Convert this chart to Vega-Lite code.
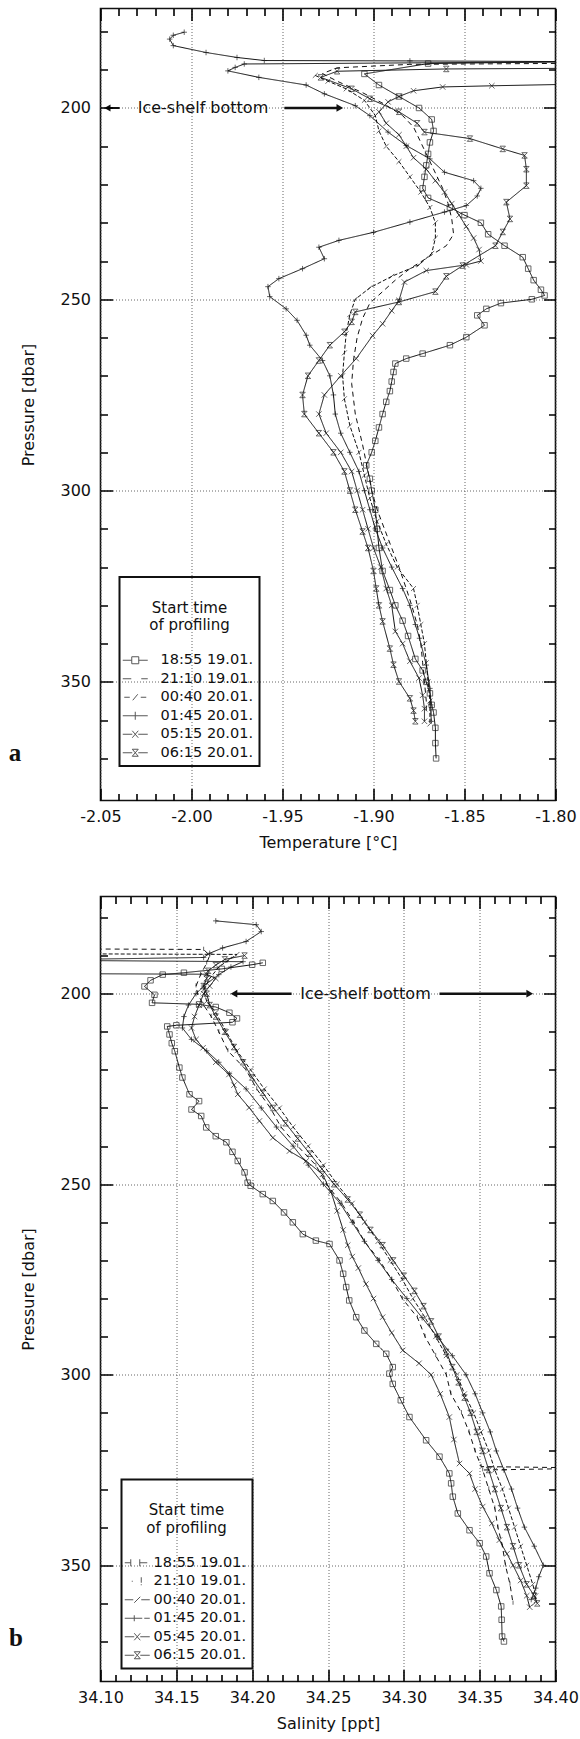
{
"$schema":"https://vega.github.io/schema/vega-lite/v6.json",
"padding":{"left":7.5,"top":7.5,"right":2,"bottom":0},
"spacing":44,
"config":{
 "view":{"stroke":"#111","strokeWidth":1.6},
 "font":"DejaVu Sans",
 "axis":{"labelFont":"DejaVu Sans","titleFont":"DejaVu Sans","labelColor":"#111","titleColor":"#111","labelFontSize":16,"titleFontSize":16,"titleFontWeight":"normal","labelFlush":false,"labelOverlap":false,"gridOpacity":1},
 "legend":{"labelFont":"DejaVu Sans","titleFont":"DejaVu Sans","labelFontSize":14.5,"titleFontSize":15,"titleFontWeight":"normal","labelColor":"#111","titleColor":"#111","strokeWidth":2}
},
"datasets":{
"ta":[
{"k":"18:55 19.01.","P":187.8,"T":-1.78},{"k":"18:55 19.01.","P":188.4,"T":-1.87},{"k":"18:55 19.01.","P":191.1,"T":-1.905},{"k":"18:55 19.01.","P":194,"T":-1.897},{"k":"18:55 19.01.","P":197,"T":-1.886},{"k":"18:55 19.01.","P":200,"T":-1.875},{"k":"18:55 19.01.","P":203,"T":-1.868},{"k":"18:55 19.01.","P":206,"T":-1.867},{"k":"18:55 19.01.","P":209,"T":-1.869},{"k":"18:55 19.01.","P":212,"T":-1.870},{"k":"18:55 19.01.","P":215,"T":-1.871},{"k":"18:55 19.01.","P":218,"T":-1.872},{"k":"18:55 19.01.","P":221,"T":-1.873},{"k":"18:55 19.01.","P":223.5,"T":-1.870},{"k":"18:55 19.01.","P":226,"T":-1.858},{"k":"18:55 19.01.","P":228,"T":-1.850},{"k":"18:55 19.01.","P":230,"T":-1.841},{"k":"18:55 19.01.","P":233,"T":-1.837},{"k":"18:55 19.01.","P":236,"T":-1.828},{"k":"18:55 19.01.","P":239,"T":-1.818},{"k":"18:55 19.01.","P":242,"T":-1.815},{"k":"18:55 19.01.","P":245,"T":-1.812},{"k":"18:55 19.01.","P":247.5,"T":-1.808},{"k":"18:55 19.01.","P":249,"T":-1.806},{"k":"18:55 19.01.","P":250,"T":-1.813},{"k":"18:55 19.01.","P":251,"T":-1.830},{"k":"18:55 19.01.","P":252.5,"T":-1.838},{"k":"18:55 19.01.","P":254.2,"T":-1.843},{"k":"18:55 19.01.","P":256.8,"T":-1.839},{"k":"18:55 19.01.","P":259.9,"T":-1.849},{"k":"18:55 19.01.","P":262,"T":-1.858},{"k":"18:55 19.01.","P":264.2,"T":-1.873},{"k":"18:55 19.01.","P":265.5,"T":-1.882},{"k":"18:55 19.01.","P":266.8,"T":-1.888},{"k":"18:55 19.01.","P":269,"T":-1.889},{"k":"18:55 19.01.","P":271.5,"T":-1.890},{"k":"18:55 19.01.","P":274,"T":-1.891},{"k":"18:55 19.01.","P":276.8,"T":-1.893},{"k":"18:55 19.01.","P":280,"T":-1.895},{"k":"18:55 19.01.","P":283.5,"T":-1.897},{"k":"18:55 19.01.","P":287,"T":-1.899},{"k":"18:55 19.01.","P":290,"T":-1.901},{"k":"18:55 19.01.","P":293.4,"T":-1.904},{"k":"18:55 19.01.","P":296.9,"T":-1.902},{"k":"18:55 19.01.","P":300,"T":-1.901},{"k":"18:55 19.01.","P":305,"T":-1.899},{"k":"18:55 19.01.","P":310,"T":-1.898},{"k":"18:55 19.01.","P":315,"T":-1.897},{"k":"18:55 19.01.","P":321,"T":-1.895},{"k":"18:55 19.01.","P":326,"T":-1.891},{"k":"18:55 19.01.","P":330,"T":-1.888},{"k":"18:55 19.01.","P":334,"T":-1.884},{"k":"18:55 19.01.","P":338,"T":-1.881},{"k":"18:55 19.01.","P":344,"T":-1.877},{"k":"18:55 19.01.","P":347,"T":-1.873},{"k":"18:55 19.01.","P":350,"T":-1.871},{"k":"18:55 19.01.","P":353,"T":-1.869},{"k":"18:55 19.01.","P":356,"T":-1.868},{"k":"18:55 19.01.","P":358,"T":-1.867},{"k":"18:55 19.01.","P":362,"T":-1.866},{"k":"18:55 19.01.","P":366,"T":-1.866},{"k":"18:55 19.01.","P":370,"T":-1.8656},
{"k":"21:10 19.01.","P":188.3,"T":-1.78},{"k":"21:10 19.01.","P":188.6,"T":-1.88},{"k":"21:10 19.01.","P":189.5,"T":-1.92},{"k":"21:10 19.01.","P":191,"T":-1.928},{"k":"21:10 19.01.","P":193,"T":-1.920},{"k":"21:10 19.01.","P":196,"T":-1.906},{"k":"21:10 19.01.","P":199,"T":-1.894},{"k":"21:10 19.01.","P":202,"T":-1.884},{"k":"21:10 19.01.","P":205,"T":-1.878},{"k":"21:10 19.01.","P":209,"T":-1.874},{"k":"21:10 19.01.","P":213,"T":-1.870},{"k":"21:10 19.01.","P":217,"T":-1.866},{"k":"21:10 19.01.","P":221,"T":-1.862},{"k":"21:10 19.01.","P":225,"T":-1.859},{"k":"21:10 19.01.","P":229,"T":-1.857},{"k":"21:10 19.01.","P":233,"T":-1.856},{"k":"21:10 19.01.","P":236,"T":-1.860},{"k":"21:10 19.01.","P":239,"T":-1.870},{"k":"21:10 19.01.","P":242,"T":-1.880},{"k":"21:10 19.01.","P":245,"T":-1.888},{"k":"21:10 19.01.","P":248,"T":-1.895},{"k":"21:10 19.01.","P":251,"T":-1.902},{"k":"21:10 19.01.","P":255,"T":-1.906},{"k":"21:10 19.01.","P":260,"T":-1.909},{"k":"21:10 19.01.","P":266,"T":-1.911},{"k":"21:10 19.01.","P":272,"T":-1.912},{"k":"21:10 19.01.","P":280,"T":-1.910},{"k":"21:10 19.01.","P":288,"T":-1.906},{"k":"21:10 19.01.","P":295,"T":-1.903},{"k":"21:10 19.01.","P":300,"T":-1.901},{"k":"21:10 19.01.","P":305,"T":-1.898},{"k":"21:10 19.01.","P":310,"T":-1.894},{"k":"21:10 19.01.","P":315,"T":-1.890},{"k":"21:10 19.01.","P":320,"T":-1.886},{"k":"21:10 19.01.","P":325.6,"T":-1.882},{"k":"21:10 19.01.","P":330,"T":-1.879},{"k":"21:10 19.01.","P":335,"T":-1.876},{"k":"21:10 19.01.","P":340,"T":-1.874},{"k":"21:10 19.01.","P":345,"T":-1.873},{"k":"21:10 19.01.","P":350,"T":-1.872},{"k":"21:10 19.01.","P":355,"T":-1.871},{"k":"21:10 19.01.","P":358,"T":-1.871},
{"k":"00:40 20.01.","P":191.5,"T":-1.932},{"k":"00:40 20.01.","P":193,"T":-1.925},{"k":"00:40 20.01.","P":195,"T":-1.915},{"k":"00:40 20.01.","P":198,"T":-1.905},{"k":"00:40 20.01.","P":202,"T":-1.899},{"k":"00:40 20.01.","P":206,"T":-1.897},{"k":"00:40 20.01.","P":210,"T":-1.893},{"k":"00:40 20.01.","P":214,"T":-1.886},{"k":"00:40 20.01.","P":218,"T":-1.880},{"k":"00:40 20.01.","P":222,"T":-1.874},{"k":"00:40 20.01.","P":226,"T":-1.869},{"k":"00:40 20.01.","P":230,"T":-1.866},{"k":"00:40 20.01.","P":234,"T":-1.866},{"k":"00:40 20.01.","P":238,"T":-1.868},{"k":"00:40 20.01.","P":241,"T":-1.875},{"k":"00:40 20.01.","P":244,"T":-1.890},{"k":"00:40 20.01.","P":247,"T":-1.902},{"k":"00:40 20.01.","P":250,"T":-1.910},{"k":"00:40 20.01.","P":254,"T":-1.913},{"k":"00:40 20.01.","P":259,"T":-1.915},{"k":"00:40 20.01.","P":264,"T":-1.916},{"k":"00:40 20.01.","P":270,"T":-1.917},{"k":"00:40 20.01.","P":276,"T":-1.916},{"k":"00:40 20.01.","P":283,"T":-1.913},{"k":"00:40 20.01.","P":290,"T":-1.908},{"k":"00:40 20.01.","P":296,"T":-1.905},{"k":"00:40 20.01.","P":302,"T":-1.902},{"k":"00:40 20.01.","P":308,"T":-1.898},{"k":"00:40 20.01.","P":314,"T":-1.893},{"k":"00:40 20.01.","P":320,"T":-1.887},{"k":"00:40 20.01.","P":325.6,"T":-1.878},{"k":"00:40 20.01.","P":330,"T":-1.876},{"k":"00:40 20.01.","P":335,"T":-1.874},{"k":"00:40 20.01.","P":340,"T":-1.872},{"k":"00:40 20.01.","P":345,"T":-1.871},{"k":"00:40 20.01.","P":350,"T":-1.870},{"k":"00:40 20.01.","P":355,"T":-1.869},{"k":"00:40 20.01.","P":361,"T":-1.869},
{"k":"01:45 20.01.","P":180.2,"T":-2.004},{"k":"01:45 20.01.","P":181,"T":-2.010},{"k":"01:45 20.01.","P":182,"T":-2.012},{"k":"01:45 20.01.","P":183.7,"T":-2.010},{"k":"01:45 20.01.","P":185.5,"T":-1.992},{"k":"01:45 20.01.","P":186.8,"T":-1.975},{"k":"01:45 20.01.","P":187.6,"T":-1.96},{"k":"01:45 20.01.","P":187.7,"T":-1.88},{"k":"01:45 20.01.","P":187.9,"T":-1.78},{"k":"01:45 20.01.","P":188.5,"T":-1.971},{"k":"01:45 20.01.","P":189.4,"T":-1.976},{"k":"01:45 20.01.","P":190.3,"T":-1.980},{"k":"01:45 20.01.","P":192,"T":-1.963},{"k":"01:45 20.01.","P":194,"T":-1.937},{"k":"01:45 20.01.","P":196.3,"T":-1.927},{"k":"01:45 20.01.","P":199.4,"T":-1.910},{"k":"01:45 20.01.","P":202,"T":-1.902},{"k":"01:45 20.01.","P":206.3,"T":-1.892},{"k":"01:45 20.01.","P":209.8,"T":-1.882},{"k":"01:45 20.01.","P":213.3,"T":-1.869},{"k":"01:45 20.01.","P":216.8,"T":-1.861},{"k":"01:45 20.01.","P":219,"T":-1.845},{"k":"01:45 20.01.","P":221,"T":-1.841},{"k":"01:45 20.01.","P":223,"T":-1.843},{"k":"01:45 20.01.","P":225.5,"T":-1.849},{"k":"01:45 20.01.","P":227.2,"T":-1.861},{"k":"01:45 20.01.","P":229.8,"T":-1.880},{"k":"01:45 20.01.","P":232.5,"T":-1.900},{"k":"01:45 20.01.","P":234.6,"T":-1.919},{"k":"01:45 20.01.","P":236.4,"T":-1.930},{"k":"01:45 20.01.","P":239.4,"T":-1.927},{"k":"01:45 20.01.","P":242,"T":-1.939},{"k":"01:45 20.01.","P":244.6,"T":-1.952},{"k":"01:45 20.01.","P":246.7,"T":-1.958},{"k":"01:45 20.01.","P":249.3,"T":-1.957},{"k":"01:45 20.01.","P":252.5,"T":-1.948},{"k":"01:45 20.01.","P":255.5,"T":-1.942},{"k":"01:45 20.01.","P":259.4,"T":-1.937},{"k":"01:45 20.01.","P":262,"T":-1.935},{"k":"01:45 20.01.","P":266,"T":-1.928},{"k":"01:45 20.01.","P":270,"T":-1.924},{"k":"01:45 20.01.","P":275,"T":-1.922},{"k":"01:45 20.01.","P":280,"T":-1.921},{"k":"01:45 20.01.","P":285,"T":-1.918},{"k":"01:45 20.01.","P":290,"T":-1.913},{"k":"01:45 20.01.","P":295,"T":-1.908},{"k":"01:45 20.01.","P":300,"T":-1.905},{"k":"01:45 20.01.","P":305,"T":-1.902},{"k":"01:45 20.01.","P":310,"T":-1.899},{"k":"01:45 20.01.","P":315,"T":-1.895},{"k":"01:45 20.01.","P":320,"T":-1.890},{"k":"01:45 20.01.","P":325.6,"T":-1.884},{"k":"01:45 20.01.","P":330,"T":-1.880},{"k":"01:45 20.01.","P":335,"T":-1.877},{"k":"01:45 20.01.","P":338.6,"T":-1.8747},{"k":"01:45 20.01.","P":345.6,"T":-1.871},{"k":"01:45 20.01.","P":351.7,"T":-1.869},{"k":"01:45 20.01.","P":356,"T":-1.8685},{"k":"01:45 20.01.","P":360.3,"T":-1.8683},
{"k":"05:15 20.01.","P":193.7,"T":-1.78},{"k":"05:15 20.01.","P":194.2,"T":-1.835},{"k":"05:15 20.01.","P":194.5,"T":-1.862},{"k":"05:15 20.01.","P":195.5,"T":-1.878},{"k":"05:15 20.01.","P":197,"T":-1.886},{"k":"05:15 20.01.","P":198.4,"T":-1.892},{"k":"05:15 20.01.","P":201,"T":-1.897},{"k":"05:15 20.01.","P":204,"T":-1.893},{"k":"05:15 20.01.","P":207,"T":-1.886},{"k":"05:15 20.01.","P":210,"T":-1.882},{"k":"05:15 20.01.","P":213,"T":-1.878},{"k":"05:15 20.01.","P":216,"T":-1.871},{"k":"05:15 20.01.","P":219,"T":-1.866},{"k":"05:15 20.01.","P":222,"T":-1.861},{"k":"05:15 20.01.","P":225,"T":-1.857},{"k":"05:15 20.01.","P":228,"T":-1.853},{"k":"05:15 20.01.","P":231,"T":-1.849},{"k":"05:15 20.01.","P":234,"T":-1.845},{"k":"05:15 20.01.","P":237,"T":-1.842},{"k":"05:15 20.01.","P":240,"T":-1.841},{"k":"05:15 20.01.","P":241,"T":-1.849},{"k":"05:15 20.01.","P":242.5,"T":-1.871},{"k":"05:15 20.01.","P":245.5,"T":-1.883},{"k":"05:15 20.01.","P":250.3,"T":-1.886},{"k":"05:15 20.01.","P":253,"T":-1.890},{"k":"05:15 20.01.","P":256.4,"T":-1.895},{"k":"05:15 20.01.","P":259.5,"T":-1.9005},{"k":"05:15 20.01.","P":265.5,"T":-1.9095},{"k":"05:15 20.01.","P":270,"T":-1.918},{"k":"05:15 20.01.","P":275,"T":-1.927},{"k":"05:15 20.01.","P":280,"T":-1.930},{"k":"05:15 20.01.","P":285,"T":-1.926},{"k":"05:15 20.01.","P":290,"T":-1.918},{"k":"05:15 20.01.","P":295,"T":-1.912},{"k":"05:15 20.01.","P":300,"T":-1.909},{"k":"05:15 20.01.","P":305,"T":-1.906},{"k":"05:15 20.01.","P":310,"T":-1.903},{"k":"05:15 20.01.","P":315,"T":-1.900},{"k":"05:15 20.01.","P":320,"T":-1.896},{"k":"05:15 20.01.","P":325.6,"T":-1.893},{"k":"05:15 20.01.","P":330,"T":-1.890},{"k":"05:15 20.01.","P":336.8,"T":-1.888},{"k":"05:15 20.01.","P":340,"T":-1.884},{"k":"05:15 20.01.","P":344.6,"T":-1.880},{"k":"05:15 20.01.","P":349,"T":-1.875},{"k":"05:15 20.01.","P":353.5,"T":-1.873},{"k":"05:15 20.01.","P":357,"T":-1.872},{"k":"05:15 20.01.","P":360.3,"T":-1.872},
{"k":"06:15 20.01.","P":189.6,"T":-1.78},{"k":"06:15 20.01.","P":189.8,"T":-1.86},{"k":"06:15 20.01.","P":190.4,"T":-1.920},{"k":"06:15 20.01.","P":192,"T":-1.929},{"k":"06:15 20.01.","P":195,"T":-1.912},{"k":"06:15 20.01.","P":197.6,"T":-1.902},{"k":"06:15 20.01.","P":201,"T":-1.886},{"k":"06:15 20.01.","P":204,"T":-1.876},{"k":"06:15 20.01.","P":206.3,"T":-1.872},{"k":"06:15 20.01.","P":208,"T":-1.847},{"k":"06:15 20.01.","P":210.7,"T":-1.829},{"k":"06:15 20.01.","P":212.4,"T":-1.817},{"k":"06:15 20.01.","P":216,"T":-1.816},{"k":"06:15 20.01.","P":220.3,"T":-1.816},{"k":"06:15 20.01.","P":224.6,"T":-1.827},{"k":"06:15 20.01.","P":229,"T":-1.825},{"k":"06:15 20.01.","P":232.4,"T":-1.829},{"k":"06:15 20.01.","P":236,"T":-1.833},{"k":"06:15 20.01.","P":241.2,"T":-1.851},{"k":"06:15 20.01.","P":244,"T":-1.860},{"k":"06:15 20.01.","P":248,"T":-1.866},{"k":"06:15 20.01.","P":250.7,"T":-1.886},{"k":"06:15 20.01.","P":253.3,"T":-1.910},{"k":"06:15 20.01.","P":255.9,"T":-1.912},{"k":"06:15 20.01.","P":258.5,"T":-1.916},{"k":"06:15 20.01.","P":262,"T":-1.924},{"k":"06:15 20.01.","P":266,"T":-1.930},{"k":"06:15 20.01.","P":270,"T":-1.936},{"k":"06:15 20.01.","P":275,"T":-1.939},{"k":"06:15 20.01.","P":280,"T":-1.938},{"k":"06:15 20.01.","P":285,"T":-1.930},{"k":"06:15 20.01.","P":290,"T":-1.922},{"k":"06:15 20.01.","P":295,"T":-1.916},{"k":"06:15 20.01.","P":300,"T":-1.913},{"k":"06:15 20.01.","P":305,"T":-1.910},{"k":"06:15 20.01.","P":310.7,"T":-1.906},{"k":"06:15 20.01.","P":315,"T":-1.903},{"k":"06:15 20.01.","P":321,"T":-1.900},{"k":"06:15 20.01.","P":325.6,"T":-1.8985},{"k":"06:15 20.01.","P":330,"T":-1.897},{"k":"06:15 20.01.","P":334.2,"T":-1.895},{"k":"06:15 20.01.","P":341.3,"T":-1.891},{"k":"06:15 20.01.","P":345.5,"T":-1.889},{"k":"06:15 20.01.","P":349.9,"T":-1.886},{"k":"06:15 20.01.","P":354.3,"T":-1.880},{"k":"06:15 20.01.","P":357.5,"T":-1.878},{"k":"06:15 20.01.","P":360.3,"T":-1.877}
],
"sb":[
{"k":"18:55 19.01.","P":191.9,"S":34.207},{"k":"18:55 19.01.","P":192.4,"S":34.200},{"k":"18:55 19.01.","P":193.5,"S":34.18},{"k":"18:55 19.01.","P":194.5,"S":34.155},{"k":"18:55 19.01.","P":195,"S":34.141},{"k":"18:55 19.01.","P":196.5,"S":34.133},{"k":"18:55 19.01.","P":198.1,"S":34.129},{"k":"18:55 19.01.","P":200.3,"S":34.1356},{"k":"18:55 19.01.","P":202.4,"S":34.134},{"k":"18:55 19.01.","P":202.8,"S":34.165},{"k":"18:55 19.01.","P":203.5,"S":34.176},{"k":"18:55 19.01.","P":205,"S":34.185},{"k":"18:55 19.01.","P":206.5,"S":34.190},{"k":"18:55 19.01.","P":207.5,"S":34.187},{"k":"18:55 19.01.","P":208.3,"S":34.150},{"k":"18:55 19.01.","P":208.6,"S":34.144},{"k":"18:55 19.01.","P":210.7,"S":34.1455},{"k":"18:55 19.01.","P":213,"S":34.147},{"k":"18:55 19.01.","P":215.1,"S":34.149},{"k":"18:55 19.01.","P":219.4,"S":34.152},{"k":"18:55 19.01.","P":222,"S":34.154},{"k":"18:55 19.01.","P":226.4,"S":34.1587},{"k":"18:55 19.01.","P":228.2,"S":34.165},{"k":"18:55 19.01.","P":230.4,"S":34.160},{"k":"18:55 19.01.","P":232.1,"S":34.1664},{"k":"18:55 19.01.","P":235.1,"S":34.1697},{"k":"18:55 19.01.","P":237.4,"S":34.176},{"k":"18:55 19.01.","P":239,"S":34.183},{"k":"18:55 19.01.","P":241.5,"S":34.187},{"k":"18:55 19.01.","P":243.9,"S":34.1905},{"k":"18:55 19.01.","P":246.9,"S":34.195},{"k":"18:55 19.01.","P":249.6,"S":34.197},{"k":"18:55 19.01.","P":250.4,"S":34.199},{"k":"18:55 19.01.","P":252.6,"S":34.207},{"k":"18:55 19.01.","P":254.4,"S":34.2136},{"k":"18:55 19.01.","P":257.4,"S":34.221},{"k":"18:55 19.01.","P":260,"S":34.2268},{"k":"18:55 19.01.","P":263.1,"S":34.2334},{"k":"18:55 19.01.","P":264.8,"S":34.242},{"k":"18:55 19.01.","P":265.7,"S":34.251},{"k":"18:55 19.01.","P":270,"S":34.2576},{"k":"18:55 19.01.","P":273.5,"S":34.260},{"k":"18:55 19.01.","P":277,"S":34.262},{"k":"18:55 19.01.","P":280.5,"S":34.264},{"k":"18:55 19.01.","P":284.9,"S":34.2686},{"k":"18:55 19.01.","P":288.4,"S":34.274},{"k":"18:55 19.01.","P":291.9,"S":34.2818},{"k":"18:55 19.01.","P":294.5,"S":34.2884},{"k":"18:55 19.01.","P":298,"S":34.2927},{"k":"18:55 19.01.","P":299.7,"S":34.2905},{"k":"18:55 19.01.","P":302.4,"S":34.2927},{"k":"18:55 19.01.","P":306.7,"S":34.298},{"k":"18:55 19.01.","P":311.1,"S":34.3037},{"k":"18:55 19.01.","P":317.2,"S":34.3147},{"k":"18:55 19.01.","P":321.5,"S":34.3235},{"k":"18:55 19.01.","P":325.9,"S":34.330},{"k":"18:55 19.01.","P":328.5,"S":34.3312},{"k":"18:55 19.01.","P":332,"S":34.3323},{"k":"18:55 19.01.","P":336.4,"S":34.3356},{"k":"18:55 19.01.","P":340.8,"S":34.3433},{"k":"18:55 19.01.","P":344.2,"S":34.350},{"k":"18:55 19.01.","P":347.7,"S":34.3543},{"k":"18:55 19.01.","P":352.1,"S":34.3565},{"k":"18:55 19.01.","P":356.5,"S":34.361},{"k":"18:55 19.01.","P":360.8,"S":34.3642},{"k":"18:55 19.01.","P":364.3,"S":34.3645},{"k":"18:55 19.01.","P":368.7,"S":34.3648},{"k":"18:55 19.01.","P":370,"S":34.366},
{"k":"21:10 19.01.","P":188.2,"S":34.05},{"k":"21:10 19.01.","P":188.4,"S":34.168},{"k":"21:10 19.01.","P":190,"S":34.172},{"k":"21:10 19.01.","P":192,"S":34.170},{"k":"21:10 19.01.","P":195,"S":34.166},{"k":"21:10 19.01.","P":198,"S":34.163},{"k":"21:10 19.01.","P":200,"S":34.164},{"k":"21:10 19.01.","P":203,"S":34.168},{"k":"21:10 19.01.","P":206,"S":34.173},{"k":"21:10 19.01.","P":210,"S":34.178},{"k":"21:10 19.01.","P":215,"S":34.184},{"k":"21:10 19.01.","P":220,"S":34.196},{"k":"21:10 19.01.","P":225,"S":34.203},{"k":"21:10 19.01.","P":230,"S":34.212},{"k":"21:10 19.01.","P":235,"S":34.219},{"k":"21:10 19.01.","P":240,"S":34.230},{"k":"21:10 19.01.","P":245,"S":34.242},{"k":"21:10 19.01.","P":250,"S":34.249},{"k":"21:10 19.01.","P":255,"S":34.259},{"k":"21:10 19.01.","P":260,"S":34.267},{"k":"21:10 19.01.","P":265,"S":34.274},{"k":"21:10 19.01.","P":270,"S":34.284},{"k":"21:10 19.01.","P":275,"S":34.292},{"k":"21:10 19.01.","P":280,"S":34.299},{"k":"21:10 19.01.","P":285,"S":34.309},{"k":"21:10 19.01.","P":290,"S":34.314},{"k":"21:10 19.01.","P":295,"S":34.321},{"k":"21:10 19.01.","P":300,"S":34.328},{"k":"21:10 19.01.","P":305,"S":34.331},{"k":"21:10 19.01.","P":310,"S":34.338},{"k":"21:10 19.01.","P":315,"S":34.343},{"k":"21:10 19.01.","P":320,"S":34.347},{"k":"21:10 19.01.","P":324.1,"S":34.351},{"k":"21:10 19.01.","P":324.5,"S":34.43},{"k":"21:10 19.01.","P":325,"S":34.352},{"k":"21:10 19.01.","P":330,"S":34.356},{"k":"21:10 19.01.","P":335,"S":34.360},{"k":"21:10 19.01.","P":340,"S":34.362},{"k":"21:10 19.01.","P":345,"S":34.365},{"k":"21:10 19.01.","P":350,"S":34.367},{"k":"21:10 19.01.","P":355,"S":34.370},{"k":"21:10 19.01.","P":360,"S":34.372},
{"k":"00:40 20.01.","P":189.5,"S":34.05},{"k":"00:40 20.01.","P":189.7,"S":34.19},{"k":"00:40 20.01.","P":191,"S":34.185},{"k":"00:40 20.01.","P":193,"S":34.178},{"k":"00:40 20.01.","P":196,"S":34.172},{"k":"00:40 20.01.","P":199,"S":34.168},{"k":"00:40 20.01.","P":202,"S":34.170},{"k":"00:40 20.01.","P":205,"S":34.176},{"k":"00:40 20.01.","P":210,"S":34.183},{"k":"00:40 20.01.","P":215,"S":34.190},{"k":"00:40 20.01.","P":220,"S":34.199},{"k":"00:40 20.01.","P":225,"S":34.208},{"k":"00:40 20.01.","P":230,"S":34.218},{"k":"00:40 20.01.","P":235,"S":34.227},{"k":"00:40 20.01.","P":240,"S":34.237},{"k":"00:40 20.01.","P":245,"S":34.247},{"k":"00:40 20.01.","P":250,"S":34.256},{"k":"00:40 20.01.","P":255,"S":34.266},{"k":"00:40 20.01.","P":260,"S":34.274},{"k":"00:40 20.01.","P":265,"S":34.283},{"k":"00:40 20.01.","P":270,"S":34.291},{"k":"00:40 20.01.","P":275,"S":34.299},{"k":"00:40 20.01.","P":280,"S":34.306},{"k":"00:40 20.01.","P":285,"S":34.314},{"k":"00:40 20.01.","P":290,"S":34.321},{"k":"00:40 20.01.","P":295,"S":34.328},{"k":"00:40 20.01.","P":300,"S":34.335},{"k":"00:40 20.01.","P":305,"S":34.340},{"k":"00:40 20.01.","P":310,"S":34.346},{"k":"00:40 20.01.","P":315,"S":34.351},{"k":"00:40 20.01.","P":320,"S":34.356},{"k":"00:40 20.01.","P":325,"S":34.360},{"k":"00:40 20.01.","P":330,"S":34.365},{"k":"00:40 20.01.","P":335,"S":34.369},{"k":"00:40 20.01.","P":340,"S":34.373},{"k":"00:40 20.01.","P":345,"S":34.377},{"k":"00:40 20.01.","P":350,"S":34.381},{"k":"00:40 20.01.","P":355,"S":34.385},{"k":"00:40 20.01.","P":358,"S":34.387},{"k":"00:40 20.01.","P":360,"S":34.386},
{"k":"01:45 20.01.","P":180.9,"S":34.176},{"k":"01:45 20.01.","P":181.9,"S":34.2027},{"k":"01:45 20.01.","P":183.7,"S":34.206},{"k":"01:45 20.01.","P":186.3,"S":34.196},{"k":"01:45 20.01.","P":188,"S":34.1805},{"k":"01:45 20.01.","P":189.4,"S":34.172},{"k":"01:45 20.01.","P":190.5,"S":34.168},{"k":"01:45 20.01.","P":191.2,"S":34.05},{"k":"01:45 20.01.","P":191.6,"S":34.194},{"k":"01:45 20.01.","P":193,"S":34.186},{"k":"01:45 20.01.","P":195,"S":34.178},{"k":"01:45 20.01.","P":198,"S":34.168},{"k":"01:45 20.01.","P":200,"S":34.163},{"k":"01:45 20.01.","P":203,"S":34.158},{"k":"01:45 20.01.","P":206,"S":34.155},{"k":"01:45 20.01.","P":209,"S":34.154},{"k":"01:45 20.01.","P":212,"S":34.160},{"k":"01:45 20.01.","P":215,"S":34.170},{"k":"01:45 20.01.","P":218,"S":34.178},{"k":"01:45 20.01.","P":221,"S":34.185},{"k":"01:45 20.01.","P":225,"S":34.196},{"k":"01:45 20.01.","P":230,"S":34.206},{"k":"01:45 20.01.","P":235,"S":34.216},{"k":"01:45 20.01.","P":240,"S":34.227},{"k":"01:45 20.01.","P":245,"S":34.237},{"k":"01:45 20.01.","P":250,"S":34.247},{"k":"01:45 20.01.","P":255,"S":34.258},{"k":"01:45 20.01.","P":260,"S":34.266},{"k":"01:45 20.01.","P":265,"S":34.274},{"k":"01:45 20.01.","P":270,"S":34.283},{"k":"01:45 20.01.","P":275,"S":34.292},{"k":"01:45 20.01.","P":280,"S":34.302},{"k":"01:45 20.01.","P":285,"S":34.312},{"k":"01:45 20.01.","P":290,"S":34.322},{"k":"01:45 20.01.","P":295,"S":34.332},{"k":"01:45 20.01.","P":300,"S":34.341},{"k":"01:45 20.01.","P":305,"S":34.347},{"k":"01:45 20.01.","P":310,"S":34.352},{"k":"01:45 20.01.","P":315,"S":34.357},{"k":"01:45 20.01.","P":320,"S":34.361},{"k":"01:45 20.01.","P":325,"S":34.366},{"k":"01:45 20.01.","P":330,"S":34.371},{"k":"01:45 20.01.","P":335,"S":34.375},{"k":"01:45 20.01.","P":340,"S":34.3795},{"k":"01:45 20.01.","P":345,"S":34.386},{"k":"01:45 20.01.","P":350,"S":34.392},{"k":"01:45 20.01.","P":353,"S":34.389},{"k":"01:45 20.01.","P":356,"S":34.387},{"k":"01:45 20.01.","P":359,"S":34.384},
{"k":"05:45 20.01.","P":194.7,"S":34.05},{"k":"05:45 20.01.","P":194.9,"S":34.170},{"k":"05:45 20.01.","P":196,"S":34.176},{"k":"05:45 20.01.","P":198,"S":34.172},{"k":"05:45 20.01.","P":200,"S":34.168},{"k":"05:45 20.01.","P":203,"S":34.165},{"k":"05:45 20.01.","P":206,"S":34.162},{"k":"05:45 20.01.","P":209,"S":34.160},{"k":"05:45 20.01.","P":212,"S":34.163},{"k":"05:45 20.01.","P":214.2,"S":34.1676},{"k":"05:45 20.01.","P":218,"S":34.176},{"k":"05:45 20.01.","P":221.2,"S":34.1847},{"k":"05:45 20.01.","P":224,"S":34.188},{"k":"05:45 20.01.","P":226.4,"S":34.1905},{"k":"05:45 20.01.","P":229.9,"S":34.198},{"k":"05:45 20.01.","P":233.4,"S":34.2048},{"k":"05:45 20.01.","P":237.8,"S":34.2136},{"k":"05:45 20.01.","P":241.3,"S":34.2246},{"k":"05:45 20.01.","P":243.9,"S":34.2356},{"k":"05:45 20.01.","P":247.4,"S":34.2464},{"k":"05:45 20.01.","P":252,"S":34.252},{"k":"05:45 20.01.","P":257,"S":34.256},{"k":"05:45 20.01.","P":262,"S":34.260},{"k":"05:45 20.01.","P":266,"S":34.263},{"k":"05:45 20.01.","P":269,"S":34.266},{"k":"05:45 20.01.","P":272,"S":34.270},{"k":"05:45 20.01.","P":276.2,"S":34.275},{"k":"05:45 20.01.","P":280,"S":34.280},{"k":"05:45 20.01.","P":284.9,"S":34.286},{"k":"05:45 20.01.","P":289,"S":34.292},{"k":"05:45 20.01.","P":293.6,"S":34.2993},{"k":"05:45 20.01.","P":297,"S":34.310},{"k":"05:45 20.01.","P":300,"S":34.318},{"k":"05:45 20.01.","P":305,"S":34.324},{"k":"05:45 20.01.","P":311.1,"S":34.330},{"k":"05:45 20.01.","P":317,"S":34.333},{"k":"05:45 20.01.","P":323.3,"S":34.3367},{"k":"05:45 20.01.","P":325.9,"S":34.3433},{"k":"05:45 20.01.","P":330,"S":34.347},{"k":"05:45 20.01.","P":334.6,"S":34.352},{"k":"05:45 20.01.","P":339,"S":34.358},{"k":"05:45 20.01.","P":343.4,"S":34.363},{"k":"05:45 20.01.","P":347,"S":34.368},{"k":"05:45 20.01.","P":350,"S":34.372},{"k":"05:45 20.01.","P":354,"S":34.377},{"k":"05:45 20.01.","P":358,"S":34.381},{"k":"05:45 20.01.","P":361,"S":34.383},
{"k":"06:15 20.01.","P":190,"S":34.195},{"k":"06:15 20.01.","P":191,"S":34.182},{"k":"06:15 20.01.","P":192.5,"S":34.176},{"k":"06:15 20.01.","P":194,"S":34.171},{"k":"06:15 20.01.","P":196,"S":34.170},{"k":"06:15 20.01.","P":198,"S":34.168},{"k":"06:15 20.01.","P":200,"S":34.170},{"k":"06:15 20.01.","P":203,"S":34.172},{"k":"06:15 20.01.","P":206,"S":34.176},{"k":"06:15 20.01.","P":210,"S":34.182},{"k":"06:15 20.01.","P":214,"S":34.188},{"k":"06:15 20.01.","P":218,"S":34.194},{"k":"06:15 20.01.","P":222,"S":34.200},{"k":"06:15 20.01.","P":226,"S":34.207},{"k":"06:15 20.01.","P":230,"S":34.214},{"k":"06:15 20.01.","P":234,"S":34.222},{"k":"06:15 20.01.","P":238,"S":34.230},{"k":"06:15 20.01.","P":242,"S":34.238},{"k":"06:15 20.01.","P":246,"S":34.246},{"k":"06:15 20.01.","P":250,"S":34.254},{"k":"06:15 20.01.","P":254,"S":34.263},{"k":"06:15 20.01.","P":258,"S":34.271},{"k":"06:15 20.01.","P":262,"S":34.278},{"k":"06:15 20.01.","P":266,"S":34.286},{"k":"06:15 20.01.","P":270,"S":34.293},{"k":"06:15 20.01.","P":274,"S":34.300},{"k":"06:15 20.01.","P":278,"S":34.307},{"k":"06:15 20.01.","P":282,"S":34.313},{"k":"06:15 20.01.","P":286,"S":34.318},{"k":"06:15 20.01.","P":290,"S":34.323},{"k":"06:15 20.01.","P":294,"S":34.328},{"k":"06:15 20.01.","P":298,"S":34.332},{"k":"06:15 20.01.","P":302,"S":34.336},{"k":"06:15 20.01.","P":306,"S":34.340},{"k":"06:15 20.01.","P":310,"S":34.344},{"k":"06:15 20.01.","P":315,"S":34.348},{"k":"06:15 20.01.","P":320,"S":34.352},{"k":"06:15 20.01.","P":325,"S":34.356},{"k":"06:15 20.01.","P":330,"S":34.360},{"k":"06:15 20.01.","P":335,"S":34.364},{"k":"06:15 20.01.","P":340,"S":34.368},{"k":"06:15 20.01.","P":345,"S":34.372},{"k":"06:15 20.01.","P":350,"S":34.376},{"k":"06:15 20.01.","P":355,"S":34.381},{"k":"06:15 20.01.","P":358,"S":34.386},{"k":"06:15 20.01.","P":360,"S":34.388}
]
},
"vconcat":[
{
 "width":455,"height":792,
 "data":{"name":"ta"},
 "layer":[
  {"mark":{"type":"line","clip":true,"strokeWidth":1,"color":"#111"},
   "encoding":{
    "x":{"field":"T","type":"quantitative","scale":{"domain":[-2.05,-1.8],"nice":false,"zero":false},
     "axis":{"orient":"bottom","values":[-2.05,-2,-1.95,-1.9,-1.85,-1.8],"format":".2f",
      "labelExpr":"replace(datum.label,'\u2212','-')",
      "ticks":false,"domain":false,"grid":true,"gridDash":[1,2],"gridColor":"#555","gridWidth":0.9,
      "labelPadding":7.5,"title":"Temperature [°C]","titlePadding":10}},
    "y":{"field":"P","type":"quantitative","scale":{"domain":[174,381],"reverse":true,"nice":false,"zero":false},
     "axis":{"orient":"left","values":[200,250,300,350],
      "ticks":false,"domain":false,"grid":true,"gridDash":[1,2],"gridColor":"#555","gridWidth":0.9,
      "labelPadding":10,"title":"Pressure [dbar]","titlePadding":23}},
    "detail":{"field":"k"},
    "strokeDash":{"field":"k","type":"nominal","scale":{"domain":["18:55 19.01.","21:10 19.01.","00:40 20.01.","01:45 20.01.","05:15 20.01.","06:15 20.01."],"range":[[1,0],[5,4],[4,2],[1,0],[1,0],[1,0]]},"legend":null},
    "order":{"value":null}}},
  {"mark":{"type":"point","clip":true,"filled":false,"size":30,"strokeWidth":0.9,"color":"#111"},
   "encoding":{
    "x":{"field":"T","type":"quantitative","scale":{"domain":[-2.05,-1.8],"nice":false,"zero":false},
     "axis":{"orient":"top","values":[-2.05,-2.04,-2.03,-2.02,-2.01,-2,-1.99,-1.98,-1.97,-1.96,-1.95,-1.94,-1.93,-1.92,-1.91,-1.9,-1.89,-1.88,-1.87,-1.86,-1.85,-1.84,-1.83,-1.82,-1.81,-1.8],"tickCount":100,
      "labels":false,"domain":false,"ticks":false,"title":null,"zindex":1,
      "grid":true,"gridColor":"#000","gridWidth":1.6,
      "gridDash":{"condition":{"test":"abs(datum.value*20-round(datum.value*20))<0.01","value":[12,768,12,0]},"value":[7,778,7,0]}}},
    "y":{"field":"P","type":"quantitative","scale":{"domain":[174,381],"reverse":true,"nice":false,"zero":false},
     "axis":{"orient":"right","values":[180,190,200,210,220,230,240,250,260,270,280,290,300,310,320,330,340,350,360,370],"tickCount":100,
      "labels":false,"domain":false,"ticks":false,"title":null,"zindex":1,
      "grid":true,"gridColor":"#000","gridWidth":1.6,
      "gridDash":{"condition":{"test":"datum.value%50==0","value":[12,431,12,0]},"value":[7,441,7,0]}}},
    "shape":{"field":"k","type":"nominal","scale":{"domain":["18:55 19.01.","21:10 19.01.","00:40 20.01.","01:45 20.01.","05:15 20.01.","06:15 20.01."],"range":["M-1,-1H1V1H-1Z","M0,0","M-0.9,0.9L0.9,-0.9","M-1,0H1M0,-1V1","M-1,-1L1,1M-1,1L1,-1","M-1,-1H1L-1,1H1Z"]},"legend":null}}},
  {"transform":[{"filter":"false"}],
   "mark":{"type":"point","filled":false,"size":121,"strokeWidth":1,"color":"#111"},
   "encoding":{
    "x":{"field":"T","type":"quantitative","scale":{"domain":[-2.05,-1.8],"nice":false,"zero":false},"axis":null},
    "y":{"field":"P","type":"quantitative","scale":{"domain":[174,381],"reverse":true,"nice":false,"zero":false},"axis":null},
    "shape":{"field":"k","type":"nominal","scale":{"domain":["18:55 19.01.","21:10 19.01.","00:40 20.01.","01:45 20.01.","05:15 20.01.","06:15 20.01."],"range":["M-2.5,0H-0.7M0.7,0H2.5M-0.7,-0.7H0.7V0.7H-0.7Z","M-2.5,0H-0.8M1.2,0H2.5","M-2.2,0H-1.1M-0.5,0.6L0.5,-0.6M1.1,0H2.2","M-2.5,0H2.5M0,-0.8V0.8","M-2.5,0H-0.6M0.6,0H2.5M-0.6,-0.7L0.6,0.7M-0.6,0.7L0.6,-0.7","M-2.5,0H-0.6M0.6,0H2.5M-0.6,-0.7H0.6L-0.6,0.7H0.6Z"]},
     "legend":{"orient":"none","legendX":19,"legendY":568.5,"title":["","Start time","of profiling"],"titleAnchor":"middle","titleAlign":"center","titleLineHeight":17.5,"titlePadding":20,"padding":6,"strokeColor":"#111","symbolOffset":2.5,"labelOffset":18,"rowPadding":3.5,"symbolStrokeWidth":1,"symbolStrokeColor":"#111","symbolFillColor":"transparent"}}}},
  {"data":{"values":[{}]},"mark":{"type":"rule","strokeWidth":2,"color":"#111"},
   "encoding":{"x":{"datum":-2.046,"type":"quantitative","axis":null},"x2":{"datum":-2.0395},"y":{"datum":200,"type":"quantitative","axis":null}}},
  {"data":{"values":[{}]},"mark":{"type":"point","shape":"triangle-left","filled":true,"size":50,"color":"#111","opacity":1},
   "encoding":{"x":{"datum":-2.0462,"type":"quantitative","axis":null},"y":{"datum":200,"type":"quantitative","axis":null}}},
  {"data":{"values":[{}]},"mark":{"type":"rule","strokeWidth":2.5,"color":"#111"},
   "encoding":{"x":{"datum":-1.9489,"type":"quantitative","axis":null},"x2":{"datum":-1.92},"y":{"datum":200,"type":"quantitative","axis":null}}},
  {"data":{"values":[{}]},"mark":{"type":"point","shape":"triangle-right","filled":true,"size":60,"color":"#111","opacity":1},
   "encoding":{"x":{"datum":-1.9185,"type":"quantitative","axis":null},"y":{"datum":200,"type":"quantitative","axis":null}}},
  {"data":{"values":[{}]},"mark":{"type":"text","text":"Ice-shelf  bottom","font":"DejaVu Sans","fontSize":16,"color":"#111","baseline":"middle","align":"center"},
   "encoding":{"x":{"datum":-1.9937,"type":"quantitative","axis":null},"y":{"datum":200,"type":"quantitative","axis":null}}},
  {"data":{"values":[{}]},"mark":{"type":"text","text":"a","font":"Liberation Serif","fontWeight":"bold","fontSize":25,"color":"#111","baseline":"alphabetic","align":"center"},
   "encoding":{"x":{"datum":-2.097,"type":"quantitative","axis":null},"y":{"datum":370.8,"type":"quantitative","axis":null}}}
 ],
 "resolve":{"scale":{"shape":"independent"},"axis":{"x":"independent","y":"independent"}}
},
{
 "width":455,"height":785,
 "data":{"name":"sb"},
 "layer":[
  {"mark":{"type":"line","clip":true,"strokeWidth":1,"color":"#111"},
   "encoding":{
    "x":{"field":"S","type":"quantitative","scale":{"domain":[34.1,34.4],"nice":false,"zero":false},
     "axis":{"orient":"bottom","values":[34.1,34.15,34.2,34.25,34.3,34.35,34.4],"format":".2f",
      "ticks":false,"domain":false,"grid":true,"gridDash":[1,2],"gridColor":"#555","gridWidth":0.9,
      "labelPadding":7.5,"title":"Salinity  [ppt]","titlePadding":10}},
    "y":{"field":"P","type":"quantitative","scale":{"domain":[174.5,380.5],"reverse":true,"nice":false,"zero":false},
     "axis":{"orient":"left","values":[200,250,300,350],
      "ticks":false,"domain":false,"grid":true,"gridDash":[1,2],"gridColor":"#555","gridWidth":0.9,
      "labelPadding":10,"title":"Pressure [dbar]","titlePadding":23}},
    "detail":{"field":"k"},
    "strokeDash":{"field":"k","type":"nominal","scale":{"domain":["18:55 19.01.","21:10 19.01.","00:40 20.01.","01:45 20.01.","05:45 20.01.","06:15 20.01."],"range":[[1,0],[2,3],[4,2],[6,2],[1,0],[1,0]]},"legend":null},
    "order":{"value":null}}},
  {"mark":{"type":"point","clip":true,"filled":false,"size":30,"strokeWidth":0.9,"color":"#111"},
   "encoding":{
    "x":{"field":"S","type":"quantitative","scale":{"domain":[34.1,34.4],"nice":false,"zero":false},
     "axis":{"orient":"top","values":[34.1,34.11,34.12,34.13,34.14,34.15,34.16,34.17,34.18,34.19,34.2,34.21,34.22,34.23,34.24,34.25,34.26,34.27,34.28,34.29,34.3,34.31,34.32,34.33,34.34,34.35,34.36,34.37,34.38,34.39,34.4],"tickCount":100,
      "labels":false,"domain":false,"ticks":false,"title":null,"zindex":1,
      "grid":true,"gridColor":"#000","gridWidth":1.6,
      "gridDash":{"condition":{"test":"abs(datum.value*20-round(datum.value*20))<0.01","value":[12,761,12,0]},"value":[7,771,7,0]}}},
    "y":{"field":"P","type":"quantitative","scale":{"domain":[174.5,380.5],"reverse":true,"nice":false,"zero":false},
     "axis":{"orient":"right","values":[180,190,200,210,220,230,240,250,260,270,280,290,300,310,320,330,340,350,360,370],"tickCount":100,
      "labels":false,"domain":false,"ticks":false,"title":null,"zindex":1,
      "grid":true,"gridColor":"#000","gridWidth":1.6,
      "gridDash":{"condition":{"test":"datum.value%50==0","value":[12,431,12,0]},"value":[7,441,7,0]}}},
    "shape":{"field":"k","type":"nominal","scale":{"domain":["18:55 19.01.","21:10 19.01.","00:40 20.01.","01:45 20.01.","05:45 20.01.","06:15 20.01."],"range":["M-1,-1H1V1H-1Z","M0,-1V0.5","M-0.9,0.9L0.9,-0.9","M-1,0H1M0,-1V1","M-1,-1L1,1M-1,1L1,-1","M-1,-1H1L-1,1H1Z"]},"legend":null}}},
  {"transform":[{"filter":"false"}],
   "mark":{"type":"point","filled":false,"size":121,"strokeWidth":1,"color":"#111"},
   "encoding":{
    "x":{"field":"S","type":"quantitative","scale":{"domain":[34.1,34.4],"nice":false,"zero":false},"axis":null},
    "y":{"field":"P","type":"quantitative","scale":{"domain":[174.5,380.5],"reverse":true,"nice":false,"zero":false},"axis":null},
    "shape":{"field":"k","type":"nominal","scale":{"domain":["18:55 19.01.","21:10 19.01.","00:40 20.01.","01:45 20.01.","05:45 20.01.","06:15 20.01."],"range":["M-2.5,0H-1.3M-1.3,-0.7V0.7M0.5,-0.7V0.7M0.5,0H2.0","M-1.0,-0.1V0.1M0.8,-0.8V0.3M0.8,0.6V0.8","M-2.5,0H-0.8M-0.6,0.6L0.6,-0.6M0.8,0H2.5","M-2.5,0H1.0M-0.6,-0.6V0.6M1.4,0H2.5","M-2.5,0H-0.6M0.6,0H2.5M-0.6,-0.7L0.6,0.7M-0.6,0.7L0.6,-0.7","M-2.5,0H-0.6M0.6,0H2.5M-0.6,-0.7H0.6L-0.6,0.7H0.6Z"]},
     "legend":{"orient":"none","legendX":21,"legendY":583,"title":["","Start time","of profiling"],"titleAnchor":"middle","titleAlign":"center","titleLineHeight":17.5,"titlePadding":20,"padding":6,"strokeColor":"#111","symbolOffset":2.5,"labelOffset":9,"rowPadding":3.5,"symbolStrokeWidth":1,"symbolStrokeColor":"#111","symbolFillColor":"transparent"}}}},
  {"data":{"values":[{}]},"mark":{"type":"rule","strokeWidth":2.5,"color":"#111"},
   "encoding":{"x":{"datum":34.19,"type":"quantitative","axis":null},"x2":{"datum":34.226},"y":{"datum":200,"type":"quantitative","axis":null}}},
  {"data":{"values":[{}]},"mark":{"type":"point","shape":"triangle-left","filled":true,"size":60,"color":"#111","opacity":1},
   "encoding":{"x":{"datum":34.188,"type":"quantitative","axis":null},"y":{"datum":200,"type":"quantitative","axis":null}}},
  {"data":{"values":[{}]},"mark":{"type":"rule","strokeWidth":2.5,"color":"#111"},
   "encoding":{"x":{"datum":34.3235,"type":"quantitative","axis":null},"x2":{"datum":34.381},"y":{"datum":200,"type":"quantitative","axis":null}}},
  {"data":{"values":[{}]},"mark":{"type":"point","shape":"triangle-right","filled":true,"size":60,"color":"#111","opacity":1},
   "encoding":{"x":{"datum":34.383,"type":"quantitative","axis":null},"y":{"datum":200,"type":"quantitative","axis":null}}},
  {"data":{"values":[{}]},"mark":{"type":"text","text":"Ice-shelf  bottom","font":"DejaVu Sans","fontSize":16,"color":"#111","baseline":"middle","align":"center"},
   "encoding":{"x":{"datum":34.2747,"type":"quantitative","axis":null},"y":{"datum":200,"type":"quantitative","axis":null}}},
  {"data":{"values":[{}]},"mark":{"type":"text","text":"b","font":"Liberation Serif","fontWeight":"bold","fontSize":25,"color":"#111","baseline":"alphabetic","align":"center"},
   "encoding":{"x":{"datum":34.0443,"type":"quantitative","axis":null},"y":{"datum":371.2,"type":"quantitative","axis":null}}}
 ],
 "resolve":{"scale":{"shape":"independent"},"axis":{"x":"independent","y":"independent"}}
}
]
}
